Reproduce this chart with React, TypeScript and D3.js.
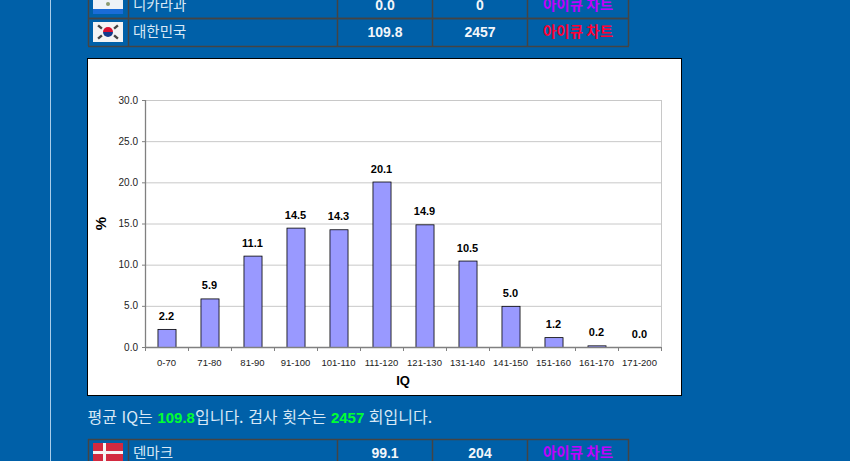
import React, { useRef, useEffect } from 'react';
import * as d3 from 'd3';

const iqBands = ['0-70', '71-80', '81-90', '91-100', '101-110', '111-120', '121-130', '131-140', '141-150', '151-160', '161-170', '171-200'];
const percents = [2.2, 5.9, 11.1, 14.5, 14.3, 20.1, 14.9, 10.5, 5.0, 1.2, 0.2, 0.0];
const yTicks = [0, 5, 10, 15, 20, 25, 30];

const countries = ['니카라과', '대한민국', '덴마크'];
const avgIq = ['0.0', '109.8', '99.1'];
const testCounts = ['0', '2457', '204'];
const chartLinkColors = ['#c000ff', '#ff0033', '#c000ff'];

const BG = '#0060a8';
const BORDER = '#444444';
const colX = [88, 128, 337, 432, 527, 628];
const rowY = [[-10, 18], [18, 46], [439, 471]];
const korean = "'Noto Sans CJK KR', 'Liberation Sans', sans-serif";
const latin = "'Liberation Sans', Arial, sans-serif";

const App: React.FC = () => {
  const svgRef = useRef<SVGSVGElement>(null);

  useEffect(() => {
    if (!svgRef.current) return;
    const svg = d3.select(svgRef.current);
    svg.selectAll('*').remove();

    svg.append('rect').attr('width', 850).attr('height', 461).attr('fill', BG);
    // 왼쪽 세로선
    svg.append('line').attr('x1', 50.5).attr('x2', 50.5).attr('y1', 0).attr('y2', 461)
      .attr('stroke', '#a8cdea').attr('stroke-width', 1);

    // 표
    rowY.forEach(([y0, y1], i) => {
      const row = svg.append('g');
      colX.forEach(x => {
        row.append('line').attr('x1', x + 0.5).attr('x2', x + 0.5).attr('y1', y0).attr('y2', y1)
          .attr('stroke', BORDER).attr('stroke-width', 1.5);
      });
      [y0, y1].forEach(y => {
        row.append('line').attr('x1', colX[0]).attr('x2', colX[5] + 1).attr('y1', y + 0.5).attr('y2', y + 0.5)
          .attr('stroke', BORDER).attr('stroke-width', 1.5);
      });

      const textY = i === 0 ? 10 : i === 1 ? 37 : 458;
      row.append('text').attr('x', 133).attr('y', textY).attr('fill', '#d8e8f5')
        .style('font-family', korean).style('font-size', '14.5px').text(countries[i]);
      row.append('text').attr('x', 385).attr('y', textY).attr('text-anchor', 'middle').attr('fill', '#f2f6fa')
        .style('font-family', latin).style('font-size', '14px').style('font-weight', 'bold').text(avgIq[i]);
      row.append('text').attr('x', 480).attr('y', textY).attr('text-anchor', 'middle').attr('fill', '#f2f6fa')
        .style('font-family', latin).style('font-size', '14px').style('font-weight', 'bold').text(testCounts[i]);
      row.append('text').attr('x', 578).attr('y', textY).attr('text-anchor', 'middle').attr('fill', chartLinkColors[i])
        .style('font-family', korean).style('font-size', '14.5px').style('font-weight', 'bold').text('아이큐 차트');
    });

    // 국기
    const nic = svg.append('g');
    nic.append('rect').attr('x', 93).attr('y', -4).attr('width', 30).attr('height', 13).attr('fill', '#eef2f7');
    nic.append('rect').attr('x', 93).attr('y', 9).attr('width', 30).attr('height', 5).attr('fill', '#1a6cd8');
    nic.append('circle').attr('cx', 108).attr('cy', 4).attr('r', 2).attr('fill', '#8a9a70');

    const kor = svg.append('g');
    kor.append('rect').attr('x', 93).attr('y', 22).attr('width', 30).attr('height', 20).attr('fill', '#f4f4f4');
    kor.append('path').attr('d', d3.arc()({ innerRadius: 0, outerRadius: 5, startAngle: -Math.PI / 2, endAngle: Math.PI / 2 }) as string)
      .attr('transform', 'translate(108,32)').attr('fill', '#d81030');
    kor.append('path').attr('d', d3.arc()({ innerRadius: 0, outerRadius: 5, startAngle: Math.PI / 2, endAngle: Math.PI * 1.5 }) as string)
      .attr('transform', 'translate(108,32)').attr('fill', '#123a8c');
    [[100, 27, -50], [116, 27, 50], [100, 37, 50], [116, 37, -50]].forEach(([x, y, a]) => {
      kor.append('rect').attr('x', x - 1.2).attr('y', y - 2.5).attr('width', 2.4).attr('height', 5)
        .attr('transform', `rotate(${a},${x},${y})`).attr('fill', '#444444');
    });

    const den = svg.append('g');
    den.append('rect').attr('x', 93).attr('y', 443).attr('width', 30).attr('height', 20).attr('fill', '#d22a40');
    den.append('rect').attr('x', 103).attr('y', 443).attr('width', 3).attr('height', 20).attr('fill', '#f4f4f4');
    den.append('rect').attr('x', 93).attr('y', 451).attr('width', 30).attr('height', 3).attr('fill', '#f4f4f4');

    // 차트 박스
    svg.append('rect').attr('x', 87.5).attr('y', 58.5).attr('width', 594).attr('height', 337)
      .attr('fill', '#ffffff').attr('stroke', '#000000').attr('stroke-width', 1);

    const margin = { top: 100, right: 189, bottom: 114, left: 145 };
    const innerWidth = 850 - margin.left - margin.right;
    const innerHeight = 461 - margin.top - margin.bottom;
    const g = svg.append('g').attr('transform', `translate(${margin.left},${margin.top})`);

    const xScale = d3.scaleBand().domain(iqBands).range([0, innerWidth]).paddingInner(0.58).paddingOuter(0.29);
    const xEdges = d3.scaleLinear().domain([0, iqBands.length]).range([0, innerWidth]);
    const yScale = d3.scaleLinear().domain([0, 30]).range([innerHeight, 0]);

    // 격자
    g.selectAll('.grid').data(yTicks.slice(1)).join('line')
      .attr('x1', 0).attr('x2', innerWidth)
      .attr('y1', d => yScale(d) + 0.5).attr('y2', d => yScale(d) + 0.5)
      .attr('stroke', '#c8c8c8').attr('stroke-width', 1);
    g.append('line').attr('x1', innerWidth + 0.5).attr('x2', innerWidth + 0.5).attr('y1', 0).attr('y2', innerHeight)
      .attr('stroke', '#c8c8c8');

    // 막대
    g.selectAll('.bar').data(percents).join('rect')
      .attr('x', (_, i) => (xScale(iqBands[i]) as number) + 0.5)
      .attr('y', d => yScale(d) + 0.5)
      .attr('width', xScale.bandwidth())
      .attr('height', d => innerHeight - yScale(d))
      .attr('fill', '#9999ff').attr('stroke', '#000000').attr('stroke-width', 0.8);

    g.selectAll('.value').data(percents).join('text')
      .attr('x', (_, i) => (xScale(iqBands[i]) as number) + xScale.bandwidth() / 2)
      .attr('y', d => yScale(d) - 9)
      .attr('text-anchor', 'middle').attr('fill', '#000000')
      .style('font-family', latin).style('font-size', '11px').style('font-weight', 'bold')
      .text(d => d.toFixed(1));

    // 축
    g.append('line').attr('x1', 0.5).attr('x2', 0.5).attr('y1', 0).attr('y2', innerHeight)
      .attr('stroke', '#808080').attr('stroke-width', 1.3);
    g.append('line').attr('x1', 0).attr('x2', innerWidth).attr('y1', innerHeight + 0.5).attr('y2', innerHeight + 0.5)
      .attr('stroke', '#808080').attr('stroke-width', 1.3);
    g.selectAll('.ytick').data(yTicks).join('line')
      .attr('x1', -3).attr('x2', 0)
      .attr('y1', d => yScale(d) + 0.5).attr('y2', d => yScale(d) + 0.5)
      .attr('stroke', '#808080');
    g.selectAll('.xtick').data(d3.range(iqBands.length + 1)).join('line')
      .attr('x1', d => xEdges(d) + 0.5).attr('x2', d => xEdges(d) + 0.5)
      .attr('y1', innerHeight).attr('y2', innerHeight + 4)
      .attr('stroke', '#808080');

    g.selectAll('.ylabel').data(yTicks).join('text')
      .attr('x', -7).attr('y', d => yScale(d) + 3.5)
      .attr('text-anchor', 'end').attr('fill', '#222222')
      .style('font-family', latin).style('font-size', '10px')
      .text(d => d.toFixed(1));
    g.selectAll('.xlabel').data(iqBands).join('text')
      .attr('x', d => (xScale(d) as number) + xScale.bandwidth() / 2)
      .attr('y', innerHeight + 19)
      .attr('text-anchor', 'middle').attr('fill', '#222222')
      .style('font-family', latin).style('font-size', '9.5px')
      .text(d => d);

    g.append('text').attr('x', innerWidth / 2).attr('y', innerHeight + 38)
      .attr('text-anchor', 'middle').attr('fill', '#000000')
      .style('font-family', latin).style('font-size', '13px').style('font-weight', 'bold').text('IQ');
    g.append('text').attr('transform', `translate(-39,${innerHeight / 2}) rotate(-90)`)
      .attr('text-anchor', 'middle').attr('fill', '#000000')
      .style('font-family', latin).style('font-size', '15px').style('font-weight', 'bold').text('%');

    // 요약 문장
    const note = svg.append('text').attr('x', 87.5).attr('y', 423).attr('fill', '#d8e8f5')
      .style('font-family', korean).style('font-size', '16px').style('word-spacing', '1px');
    note.append('tspan').text('평균 IQ는 ');
    note.append('tspan').attr('fill', '#00ff33').style('font-weight', 'bold').style('font-family', latin).style('font-size', '15px').text('109.8');
    note.append('tspan').text('입니다. 검사 횟수는 ');
    note.append('tspan').attr('fill', '#00ff33').style('font-weight', 'bold').style('font-family', latin).style('font-size', '15px').text('2457');
    note.append('tspan').text(' 회입니다.');
  }, []);

  return (
    <svg
      ref={svgRef}
      width={850}
      height={461}
      style={{ position: 'fixed', left: 0, top: 0, display: 'block' }}
    />
  );
};

export default App;
